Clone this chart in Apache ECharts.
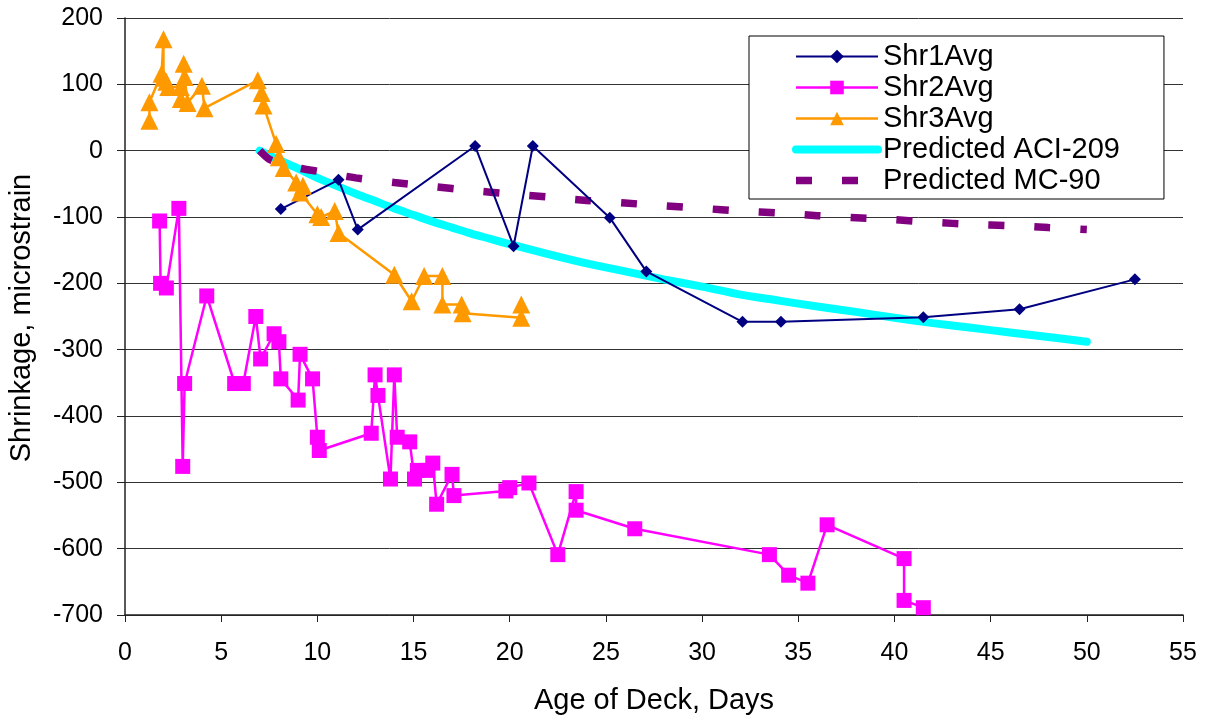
<!DOCTYPE html>
<html>
<head>
<meta charset="utf-8">
<title>Shrinkage</title>
<script src="https://cdn.jsdelivr.net/npm/echarts@6/dist/echarts.min.js"></script>
<style>
  html, body { margin: 0; padding: 0; background: #fff; }
  #chart { width: 1206px; height: 721px; }
</style>
</head>
<body>
<div id="chart"></div>
<script>
// measured series (age in days, shrinkage in microstrain)
var shr1Days = [8.1, 11.1, 12.1, 18.2, 20.2, 21.2, 25.2, 27.1, 32.1, 34.1, 41.5, 46.5, 52.5]
var shr1Vals = [-88, -44, -119, 7, -144, 7, -101, -182, -258, -258, -251, -239, -194]

var shr2Days = [1.8, 1.85, 2.15, 2.8, 3.0, 3.1, 4.25, 5.7, 6.15, 6.8,
  7.05, 7.75, 8.0, 8.1, 9.0, 9.1, 9.75, 10.0, 10.1, 12.8,
  13.0, 13.15, 13.8, 14.0, 14.15, 14.8, 15.05, 15.2, 15.75, 16.0,
  16.2, 17.0, 17.1, 19.8, 20.0, 21.0, 22.5, 23.45, 23.45, 26.5,
  33.5, 34.5, 35.5, 36.5, 40.5, 40.5, 41.5]
var shr2Vals = [-106, -200, -207, -87, -476, -351, -219, -351, -351, -250,
  -314, -276, -288, -344, -376, -307, -344, -432, -452, -426,
  -338, -369, -495, -338, -432, -439, -495, -482, -482, -471,
  -533, -488, -520, -513, -508, -501, -609, -514, -542, -570,
  -609, -640, -652, -564, -615, -678, -689]

var shr3Days = [1.27, 1.27, 1.9, 2.0, 2.0, 2.15, 2.25, 2.9, 2.9, 3.05,
  3.1, 3.25, 4.0, 4.13, 6.9, 7.1, 7.2, 7.86, 8.0, 8.25,
  8.9, 9.25, 9.1, 10.0, 10.2, 10.9, 11.1, 14.0, 14.9, 15.55,
  16.5, 16.5, 17.5, 17.55, 20.6, 20.6]
var shr3Vals = [45, 73, 116, 168, 110, 104, 96, 96, 78, 131,
  111, 72, 98, 64, 106, 87, 68, 10, -10, -26,
  -48, -53, -63, -96, -100, -91, -124, -187, -227, -189,
  -189, -232, -232, -245, -252, -232]

// predicted curves
var aciDays = [7, 8, 9, 10, 11, 12, 13, 14, 15, 16, 17, 18, 19, 20, 22, 24, 26, 28, 30, 32, 34, 36, 38, 40, 42, 44, 46, 48, 50]
var aciVals = [0, -14, -27, -41, -53, -65, -76, -87, -97, -107, -116, -125, -133, -141, -156, -170, -182, -194, -205, -217, -226, -235, -243, -252, -260, -267, -274, -281, -288]

var mcDays = [7, 7.5, 8, 9, 10, 12, 14, 16, 18, 20, 22, 24, 26, 28, 30, 32, 34, 36, 38, 40, 42, 44, 46, 48, 50]
var mcVals = [0, -13, -18, -26, -31, -41, -48, -54, -60, -65, -70, -75, -79, -83, -87, -91, -94, -98, -101, -104, -108, -111, -113, -116, -119]

var FONT = '"Liberation Sans", Arial, sans-serif'

function pairs (xs, ys) {
  return xs.map(function (x, i) { return [x, ys[i]] })
}

var chart = echarts.init(document.getElementById('chart'), null, { renderer: 'canvas' })

var option = {
  animation: false,
  backgroundColor: '#fff',
  grid: { left: 125, top: 18, width: 1058, height: 597, containLabel: false },
  xAxis: {
    type: 'value',
    min: 0,
    max: 55,
    interval: 5,
    name: 'Age of Deck, Days',
    nameLocation: 'middle',
    nameGap: 71,
    nameTextStyle: { fontSize: 29, fontFamily: FONT, color: '#000' },
    axisLine: { onZero: false, lineStyle: { color: '#222', width: 1.5 } },
    axisTick: { length: 7, lineStyle: { color: '#222' } },
    axisLabel: { margin: 26, fontSize: 25, fontFamily: FONT, color: '#000' },
    splitLine: { show: false }
  },
  yAxis: {
    type: 'value',
    min: -700,
    max: 200,
    interval: 100,
    axisLine: { show: true, onZero: false, lineStyle: { color: '#222', width: 1.5 } },
    axisTick: { show: true, length: 8, lineStyle: { color: '#222' } },
    axisLabel: { margin: 22, fontSize: 25, fontFamily: FONT, color: '#000' },
    // 网格线
    splitLine: { lineStyle: { color: '#333', width: 1 } }
  },
  legend: {
    data: [
      { name: 'Shr1Avg', lineStyle: { width: 2 } },
      { name: 'Shr2Avg', lineStyle: { width: 2.5 } },
      { name: 'Shr3Avg', lineStyle: { width: 2.5 } },
      // 预测线没有标记点
      { name: 'Predicted ACI-209', lineStyle: { width: 8, cap: 'round' }, itemStyle: { opacity: 0 } },
      { name: 'Predicted MC-90', lineStyle: { width: 7.5, type: [16, 30] }, itemStyle: { opacity: 0 } }
    ],
    orient: 'vertical',
    left: 749,
    top: 36,
    padding: [5, 44, 3, 43],
    itemWidth: 82,
    itemHeight: 17,
    itemGap: 0,
    selectedMode: false,
    borderColor: '#000',
    borderWidth: 1,
    backgroundColor: '#fff',
    textStyle: { fontSize: 29, lineHeight: 31, fontFamily: FONT, color: '#000' }
  },
  graphic: [{
    type: 'text',
    x: 22,
    y: 318,
    rotation: Math.PI / 2,
    style: {
      text: 'Shrinkage, microstrain',
      fontSize: 29,
      fontFamily: FONT,
      fill: '#000',
      align: 'center',
      verticalAlign: 'middle'
    }
  }],
  series: [{
    name: 'Shr1Avg',
    type: 'line',
    data: pairs(shr1Days, shr1Vals),
    symbol: 'diamond',
    symbolSize: 12,
    lineStyle: { color: '#000080', width: 2 },
    itemStyle: { color: '#000080' },
    z: 3
  }, {
    name: 'Shr2Avg',
    type: 'line',
    data: pairs(shr2Days, shr2Vals),
    symbol: 'rect',
    symbolSize: 15,
    lineStyle: { color: '#FF00FF', width: 2.5 },
    itemStyle: { color: '#FF00FF' },
    z: 3
  }, {
    name: 'Shr3Avg',
    type: 'line',
    data: pairs(shr3Days, shr3Vals),
    symbol: 'triangle',
    symbolSize: 18,
    lineStyle: { color: '#FF9900', width: 2.5 },
    itemStyle: { color: '#FF9900' },
    z: 3
  }, {
    name: 'Predicted ACI-209',
    type: 'line',
    data: pairs(aciDays, aciVals),
    symbol: 'none',
    smooth: 0.3,
    lineStyle: { color: '#00FFFF', width: 8, cap: 'round' },
    itemStyle: { color: '#00FFFF' },
    z: 2
  }, {
    name: 'Predicted MC-90',
    type: 'line',
    data: pairs(mcDays, mcVals),
    symbol: 'none',
    smooth: 0.3,
    lineStyle: { color: '#800080', width: 7.5, type: [16, 30], cap: 'butt' },
    itemStyle: { color: '#800080' },
    z: 2
  }]
}

chart.setOption(option)
</script>
</body>
</html>
